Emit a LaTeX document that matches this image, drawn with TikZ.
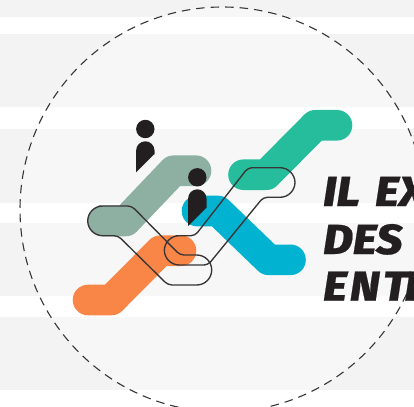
\documentclass[tikz,border=0pt]{standalone}
\usepackage{fontspec}
\newfontfamily\headfont[BoldItalicFont={Fira Sans ExtraBold Italic},BoldItalicFeatures={FakeStretch=1.1,FakeBold=0.5}]{Fira Sans}
\definecolor{bandout}{HTML}{F3F3F3}
\definecolor{bandin}{HTML}{F7F7F7}
\definecolor{cgreen}{HTML}{26BD9C}
\definecolor{csage}{HTML}{8DB0A2}
\definecolor{corange}{HTML}{F98646}
\definecolor{cteal}{HTML}{02B2D1}
\definecolor{cdark}{HTML}{231F20}
\tikzset{
  ribbon/.style={line width=30.6pt,line cap=round,line join=round},
  outl/.style={draw=cdark!90,line width=1.35pt,line join=round},
  dashcirc/.style={draw=cdark!90,line width=1.1pt,dash pattern=on 8.5pt off 6pt},
  headline/.style={anchor=base west,inner sep=0pt,text=cdark,font=\headfont\bfseries\itshape\fontsize{42}{42}\selectfont},
}
\begin{document}
\begin{tikzpicture}[x=1pt,y=-1pt]
\useasboundingbox (0,0) rectangle (414,406);
\clip (0,0) rectangle (414,406);
\fill[white] (0,0) rectangle (414,406);
% bands
\foreach \ya/\yb in {0/17,34/107,129/203,223/296,317/390}{
  \fill[bandout] (0,\ya) rectangle (414,\yb);
}
\begin{scope}
\clip (222.5,209.5) circle[radius=202.5];
\foreach \ya/\yb in {0/17,34/107,129/203,223/296,317/390}{
  \fill[bandin] (0,\ya) rectangle (414,\yb);
}
\end{scope}
\draw[dashcirc] (222.5,209.5) circle[radius=202.5];
% ribbons
\draw[ribbon,draw=cgreen] (243.5,174.7) -- (266.4,174.7) -- (315.3,125.3) -- (337,125.3);
\draw[ribbon,draw=cteal] (197,211) -- (218,211) -- (268.6,259.8) -- (290.5,259.8);
\draw[ribbon,draw=csage] (103,221) -- (125.7,221) -- (173.6,170.7) -- (196,170.7);
\draw[ribbon,draw=corange] (88,300) -- (111.4,300) -- (160.3,250.7) -- (181,250.7);
% figures
\fill[cdark] (145.3,129) circle[radius=9.2];
\fill[cdark] (136.1,172.3) -- (136.1,150.5) arc[start angle=180,end angle=360,radius=9.2] -- (154.5,154) -- cycle;
\fill[cdark] (197.3,177.3) circle[radius=9.2];
\fill[cdark] (188.1,226) -- (188.1,198.5) arc[start angle=180,end angle=360,radius=9.2] -- (206.5,207.6) -- cycle;
% outlines
\draw[outl,rounded corners=15pt] (103,206) -- (87.7,206) -- (87.7,235.7) [rounded corners=4pt] -- (118,235.7) -- (168,285) [rounded corners=15pt] -- (211.7,285) -- (211.7,255) [rounded corners=4pt] -- (180,255) -- (131.7,206) -- cycle;
\draw[outl,rounded corners=15pt] (180,235.7) -- (164.3,235.7) -- (164.3,265) [rounded corners=4pt] -- (208,265) -- (263.3,197.3) [rounded corners=15pt] -- (295,197.3) -- (295,167.7) [rounded corners=4pt] -- (248,167.7) -- (195,235.7) -- cycle;
% text
\node[headline] (line1) at (323,206) {IL\kern5pt{} EX};
\node[headline] (line2) at (323,254) {DES};
\node[headline] (line3) at (323,300.7) {E\kern3pt N\kern3pt T\kern-3pt R};
\end{tikzpicture}
\end{document}
